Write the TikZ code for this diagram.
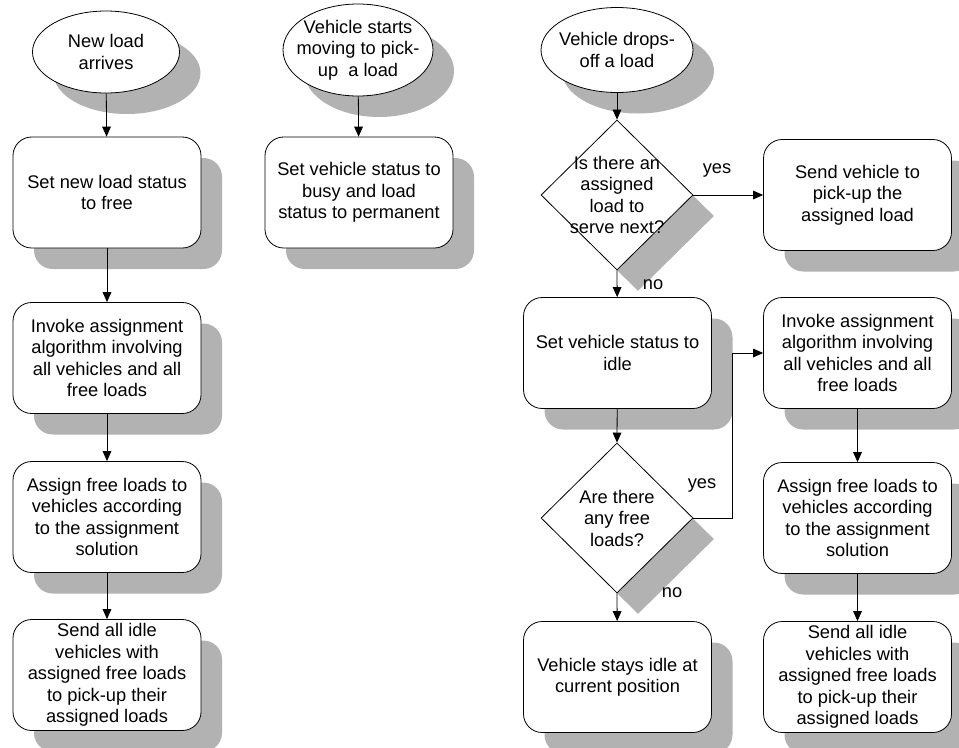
\documentclass[tikz,border=0pt]{standalone}
\usepackage{fontspec}
\setmainfont{Liberation Sans}
\usetikzlibrary{shapes.geometric,shadows,arrows.meta}
\definecolor{shadowgray}{RGB}{178,178,178}
\tikzset{
  every node/.style={font=\fontsize{13.7pt}{16.1pt}\selectfont, text=black},
  myshadow/.style={drop shadow={shadow xshift=15.75pt, shadow yshift=-15.75pt, fill=shadowgray, opacity=1}},
  procbox/.style={draw, fill=white, line width=0.6pt, rectangle, rounded corners=14pt,
    minimum width=141pt, minimum height=83.25pt, inner sep=1pt, align=center, myshadow},
  startell/.style={draw, fill=white, line width=0.6pt, ellipse, inner sep=0pt, myshadow},
  decide/.style={draw, fill=white, line width=0.6pt, diamond, inner sep=0pt,
    minimum width=114pt, minimum height=112.5pt, myshadow},
  conn/.style={line width=0.6pt, -{Triangle[length=7.5pt,width=6.5pt]}},
  lbl/.style={inner sep=0pt}
}
\begin{document}
\begin{tikzpicture}[x=0.75pt,y=-0.75pt]
\useasboundingbox (0,0) rectangle (959,747);

% left column
\node[startell, minimum width=110.25pt, minimum height=61.5pt,
  label={[align=center]center:New load\\arrives}] (e1) at (106,52) {};
\node[procbox] (b1) at (107,192.5) {Set new load status\\to free};
\node[procbox] (b2) at (107,358) {Invoke assignment\\algorithm involving\\all vehicles and all\\free loads};
\node[procbox] (b3) at (107,517) {Assign free loads to\\vehicles according\\to the assignment\\solution};
\node[procbox] (b4) at (107,675) {Send all idle\\vehicles with\\assigned free loads\\to pick-up their\\assigned loads};

% middle column
\node[startell, minimum width=112.5pt, minimum height=69pt,
  label={[align=center]center:Vehicle starts\\moving to pick-\\up\ \ a load}] (e2) at (358,50) {};
\node[procbox] (b5) at (359,192.5) {Set vehicle status to\\busy and load\\status to permanent};

% right column
\node[startell, minimum width=114pt, minimum height=63.75pt,
  label={[align=center]center:Vehicle drops-\\off a load}] (e3) at (617,50) {};
\node[decide, label={[align=center]center:Is there an\\assigned\\load to\\serve next?}] (d1) at (617,195) {};
\node[procbox] (b6) at (857.5,195) {Send vehicle to\\pick-up the\\assigned load};
\node[procbox] (b7) at (617.5,353) {Set vehicle status to\\idle};
\node[procbox] (b8) at (857.5,353) {Invoke assignment\\algorithm involving\\all vehicles and all\\free loads};
\node[decide, label={[align=center]center:Are there\\any free\\loads?}] (d2) at (617,518) {};
\node[procbox] (b10) at (857.5,518) {Assign free loads to\\vehicles according\\to the assignment\\solution};
\node[procbox] (b9) at (617.5,677) {Vehicle stays idle at\\current position};
\node[procbox] (b11) at (857.5,677) {Send all idle\\vehicles with\\assigned free loads\\to pick-up their\\assigned loads};

% labels
\node[lbl] (yes1) at (717,170) {yes};
\node[lbl] (no1) at (653,285) {no};
\node[lbl] (yes2) at (702,485) {yes};
\node[lbl] (no2) at (672,593) {no};

% connectors
\draw[conn] (e1) -- (b1);
\draw[conn] (b1) -- (b2);
\draw[conn] (b2) -- (b3);
\draw[conn] (b3) -- (b4);
\draw[conn] (e2) -- (b5);
\draw[conn] (e3) -- (d1);
\draw[conn] (d1.east) -- (b6.west);
\draw[conn] (d1.south) -- (b7);
\draw[conn] (b7) -- (d2.north);
\draw[conn] (d2.south) -- (b9);
\coordinate (k) at (732,518);
\draw[conn] (d2.east) -- (k) |- (b8.west);
\draw[conn] (b8) -- (b10);
\draw[conn] (b10) -- (b11);
\end{tikzpicture}
\end{document}
